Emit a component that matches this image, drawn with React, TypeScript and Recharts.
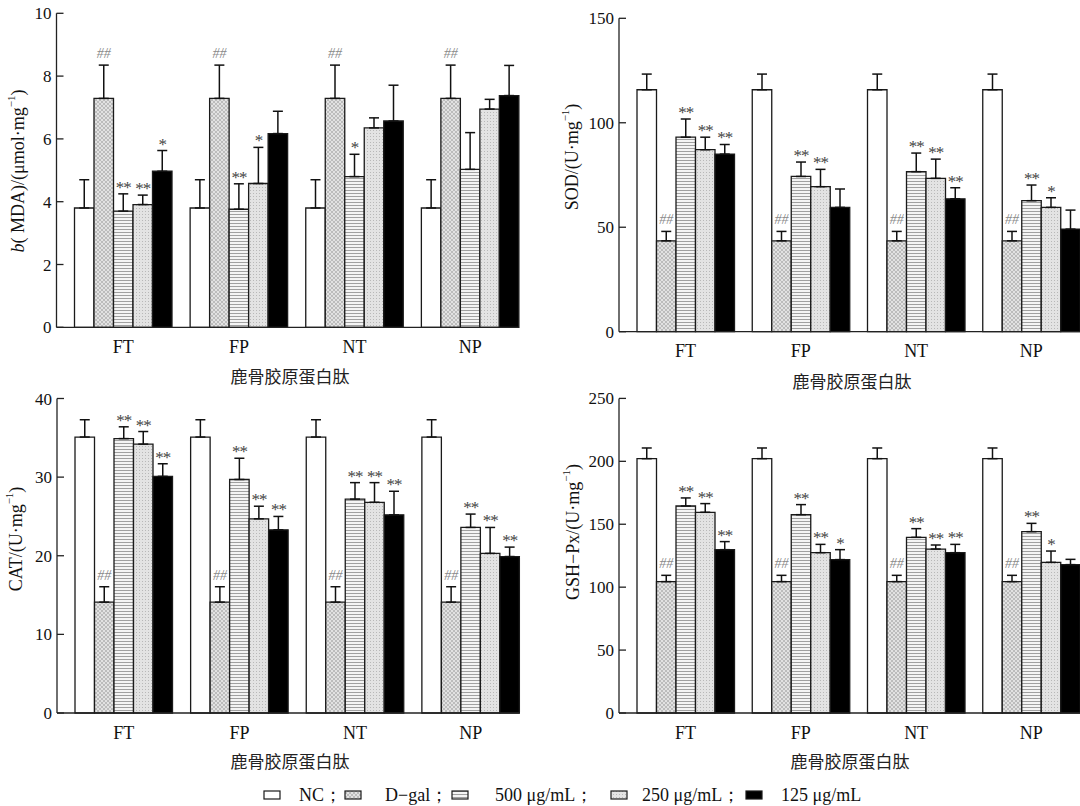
import React from 'react';
import { BarChart, Bar, XAxis, YAxis, ErrorBar, LabelList, Label } from 'recharts';

// ---------- categories & legend ----------
const categories = ['FT', 'FP', 'NT', 'NP'];
const seriesNames = ['NC；', 'D−gal；', '500 μg/mL；', '250 μg/mL；', '125 μg/mL'];
const xTitle = '鹿骨胶原蛋白肽';

// ---------- MDA ----------
const mdaNC = [3.8, 3.8, 3.8, 3.8];
const mdaDgal = [7.29, 7.29, 7.29, 7.29];
const mda500 = [3.7, 3.76, 4.8, 5.03];
const mda250 = [3.91, 4.58, 6.35, 6.95];
const mda125 = [4.97, 6.17, 6.57, 7.38];
const mdaNCErr = [0.9, 0.9, 0.9, 0.9];
const mdaDgalErr = [1.06, 1.06, 1.06, 1.06];
const mda500Err = [0.55, 0.81, 0.71, 1.17];
const mda250Err = [0.3, 1.15, 0.32, 0.31];
const mda125Err = [0.66, 0.71, 1.14, 0.96];
const mdaMarks500 = ['**', '**', '*', ''];
const mdaMarks250 = ['**', '*', '', ''];
const mdaMarks125 = ['*', '', '', ''];
const mdaTicks = [0, 2, 4, 6, 8, 10];

// ---------- SOD ----------
const sodNC = [115.8, 115.8, 115.8, 115.8];
const sodDgal = [43.5, 43.5, 43.5, 43.5];
const sod500 = [93.1, 74.3, 76.6, 62.7];
const sod250 = [87.1, 69.4, 73.4, 59.5];
const sod125 = [85.0, 59.5, 63.6, 49.1];
const sodNCErr = [7.5, 7.5, 7.5, 7.5];
const sodDgalErr = [4.5, 4.5, 4.5, 4.5];
const sod500Err = [8.7, 6.9, 8.9, 7.5];
const sod250Err = [6.0, 8.3, 9.2, 4.6];
const sod125Err = [4.6, 8.8, 5.3, 9.1];
const sodMarks500 = ['**', '**', '**', '**'];
const sodMarks250 = ['**', '**', '**', '*'];
const sodMarks125 = ['**', '', '**', ''];
const sodTicks = [0, 50, 100, 150];

// ---------- CAT ----------
const catNC = [35.1, 35.1, 35.1, 35.1];
const catDgal = [14.1, 14.1, 14.1, 14.1];
const cat500 = [34.9, 29.7, 27.2, 23.6];
const cat250 = [34.2, 24.7, 26.8, 20.3];
const cat125 = [30.1, 23.3, 25.2, 19.9];
const catNCErr = [2.2, 2.2, 2.2, 2.2];
const catDgalErr = [1.96, 1.96, 1.96, 1.96];
const cat500Err = [1.5, 2.7, 2.1, 1.7];
const cat250Err = [1.6, 1.6, 2.5, 3.3];
const cat125Err = [1.6, 1.7, 3.0, 1.2];
const catMarks500 = ['**', '**', '**', '**'];
const catMarks250 = ['**', '**', '**', '**'];
const catMarks125 = ['**', '**', '**', '**'];
const catTicks = [0, 10, 20, 30, 40];

// ---------- GSH-Px ----------
const gshNC = [202.1, 202.1, 202.1, 202.1];
const gshDgal = [104.4, 104.4, 104.4, 104.4];
const gsh500 = [164.5, 157.6, 139.6, 144.1];
const gsh250 = [159.5, 127.4, 130.3, 119.7];
const gsh125 = [129.8, 121.9, 127.4, 117.9];
const gshNCErr = [8.5, 8.5, 8.5, 8.5];
const gshDgalErr = [5.0, 5.0, 5.0, 5.0];
const gsh500Err = [6.4, 8.0, 6.9, 6.6];
const gsh250Err = [6.9, 6.6, 3.2, 9.0];
const gsh125Err = [6.4, 7.9, 6.6, 4.2];
const gshMarks500 = ['**', '**', '**', '**'];
const gshMarks250 = ['**', '**', '**', '*'];
const gshMarks125 = ['**', '*', '**', ''];
const gshTicks = [0, 50, 100, 150, 200, 250];

const dgalMarks = ['##', '##', '##', '##'];
const noMarks = ['', '', '', ''];

const SERIF = "'Liberation Serif', 'Times New Roman', serif";
const CJK = "'Noto Sans CJK SC', sans-serif";
const keys = ['nc', 'dgal', 'c500', 'c250', 'c125'];
const fills = ['#ffffff', 'url(#pDgal)', 'url(#pHor)', 'url(#pDot)', '#000000'];

type Geo = {
  cx: number; cy: number; w: number; h: number;
  left: number; top: number; bottom: number; right: number;
  yLab: [number, number]; xLab: [number, number];
};

const makeMarker = (vals: number[], errs: number[], marks: string[]) => (props: any) => {
  const index = props.index;
  const m = marks[index];
  if (!m) return null;
  const vb = props.viewBox || props;
  const x = Number(vb.x), y = Number(vb.y), w = Number(vb.width), h = Number(vb.height);
  const v = vals[index];
  const errPx = (errs[index] * Math.abs(h)) / v;
  const top = Math.min(y, y + h) - errPx;
  const hash = m.startsWith('#');
  return (
    <text
      x={x + w / 2}
      y={top - (hash ? 7 : 1)}
      textAnchor="middle"
      fontSize={hash ? 14 : 17}
      fill={hash ? '#8a8a8a' : '#444'}
      fontFamily={SERIF}
      fontStyle={hash ? 'italic' : 'normal'}
      letterSpacing={hash ? 0 : -1}
    >
      {m}
    </text>
  );
};

function Panel(props: {
  geo: Geo; vals: number[][]; errs: number[][]; marks: string[][];
  ticks: number[]; yLabel: React.ReactNode;
}) {
  const { geo, vals, errs, marks, ticks, yLabel } = props;
  const data = categories.map((cat, i) => {
    const row: any = { cat };
    keys.forEach((k, s) => {
      row[k] = vals[s][i];
      row[k + 'E'] = [0, errs[s][i]];
    });
    return row;
  });
  const margin = {
    top: geo.top - geo.cy,
    right: geo.cx + geo.w - geo.right,
    bottom: geo.cy + geo.h - geo.bottom - 30,
    left: 0,
  };
  const [ylx, yly] = [geo.yLab[0] - geo.cx, geo.yLab[1] - geo.cy];
  const [xlx, xly] = [geo.xLab[0] - geo.cx, geo.xLab[1] - geo.cy];
  return (
    <div style={{ position: 'absolute', left: geo.cx, top: geo.cy }}>
      <BarChart width={geo.w} height={geo.h} data={data} margin={margin} barGap={0} barSize={19.5}>
        <XAxis
          dataKey="cat"
          tickLine={false}
          axisLine={{ stroke: '#222', strokeWidth: 1.3 }}
          tick={{ fontSize: 18, fill: '#111', fontFamily: SERIF }}
          tickMargin={7}
          interval={0}
          padding={{ left: 9, right: -9 }}
          height={30}
        >
          <Label
            content={() => (
              <text x={xlx} y={xly} textAnchor="middle" dominantBaseline="central" fontSize={17} fill="#222" fontFamily={CJK}>
                {xTitle}
              </text>
            )}
          />
        </XAxis>
        <YAxis
          type="number"
          domain={[0, ticks[ticks.length - 1]]}
          ticks={ticks}
          interval={0}
          width={geo.left - geo.cx}
          tickSize={-7}
          tickMargin={12}
          tickLine={{ stroke: '#222', strokeWidth: 1.3 }}
          axisLine={{ stroke: '#222', strokeWidth: 1.3 }}
          tick={{ fontSize: 17, fill: '#111', fontFamily: SERIF }}
        >
          <Label
            content={() => (
              <text
                x={ylx}
                y={yly}
                transform={`rotate(-90, ${ylx}, ${yly})`}
                textAnchor="middle"
                dominantBaseline="central"
                fontSize={18}
                fill="#111"
                fontFamily={SERIF}
              >
                {yLabel}
              </text>
            )}
          />
        </YAxis>
        {keys.map((k, s) => (
          <Bar key={k} dataKey={k} fill={fills[s]} stroke="#1a1a1a" strokeWidth={1.3} isAnimationActive={false}>
            <ErrorBar dataKey={k + 'E'} width={5} stroke="#111" strokeWidth={1.5} direction="y" />
            <LabelList dataKey={k} content={makeMarker(vals[s], errs[s], marks[s])} />
          </Bar>
        ))}
      </BarChart>
    </div>
  );
}

const unit = (pre: React.ReactNode) => (
  <>
    {pre}
    <tspan dy={-7} fontSize={11}>−1</tspan>
    <tspan dy={7}>)</tspan>
  </>
);

const geo1: Geo = { cx: 0, cy: 0, w: 540, h: 400, left: 56.5, top: 13.3, bottom: 327.3, right: 519, yLab: [18, 171], xLab: [290, 375] };
const geo2: Geo = { cx: 540, cy: 0, w: 540, h: 400, left: 619, top: 18.3, bottom: 331.7, right: 1080, yLab: [572, 157], xLab: [852, 380] };
const geo3: Geo = { cx: 0, cy: 385, w: 540, h: 421, left: 57, top: 398.5, bottom: 713, right: 519.5, yLab: [16, 539], xLab: [290, 760] };
const geo4: Geo = { cx: 540, cy: 385, w: 540, h: 421, left: 619, top: 398.4, bottom: 713, right: 1080, yLab: [573, 532], xLab: [850, 760] };

const legendSwatchX = [264, 345, 452, 611, 746];
const legendTextX = [299, 385, 495, 642, 781];

export default function App() {
  return (
    <div style={{ position: 'absolute', left: 0, top: 0, width: 1080, height: 806, background: '#fff', overflow: 'hidden' }}>
      <svg width={0} height={0} style={{ position: 'absolute' }}>
        <defs>
          <pattern id="pDgal" patternUnits="userSpaceOnUse" width={4} height={4}>
            <rect width={4} height={4} fill="#e2e2e2" />
            <path d="M0,0 L4,4 M4,0 L0,4" stroke="#a2a2a2" strokeWidth={0.6} />
          </pattern>
          <pattern id="pHor" patternUnits="userSpaceOnUse" width={4} height={3}>
            <rect width={4} height={3} fill="#f4f4f4" />
            <line x1={0} y1={1.5} x2={4} y2={1.5} stroke="#a0a0a0" strokeWidth={1} />
          </pattern>
          <pattern id="pDot" patternUnits="userSpaceOnUse" width={3} height={3}>
            <rect width={3} height={3} fill="#e3e3e3" />
            <rect x={1} y={1} width={1} height={1} fill="#b8b8b8" />
          </pattern>
        </defs>
      </svg>

      <Panel
        geo={geo1}
        vals={[mdaNC, mdaDgal, mda500, mda250, mda125]}
        errs={[mdaNCErr, mdaDgalErr, mda500Err, mda250Err, mda125Err]}
        marks={[noMarks, dgalMarks, mdaMarks500, mdaMarks250, mdaMarks125]}
        ticks={mdaTicks}
        yLabel={unit(<><tspan fontStyle="italic">b</tspan>( MDA)/(μmol·mg</>)}
      />
      <Panel
        geo={geo2}
        vals={[sodNC, sodDgal, sod500, sod250, sod125]}
        errs={[sodNCErr, sodDgalErr, sod500Err, sod250Err, sod125Err]}
        marks={[noMarks, dgalMarks, sodMarks500, sodMarks250, sodMarks125]}
        ticks={sodTicks}
        yLabel={unit(<>SOD/(U·mg</>)}
      />
      <Panel
        geo={geo3}
        vals={[catNC, catDgal, cat500, cat250, cat125]}
        errs={[catNCErr, catDgalErr, cat500Err, cat250Err, cat125Err]}
        marks={[noMarks, dgalMarks, catMarks500, catMarks250, catMarks125]}
        ticks={catTicks}
        yLabel={unit(<>CAT/(U·mg</>)}
      />
      <Panel
        geo={geo4}
        vals={[gshNC, gshDgal, gsh500, gsh250, gsh125]}
        errs={[gshNCErr, gshDgalErr, gsh500Err, gsh250Err, gsh125Err]}
        marks={[noMarks, dgalMarks, gshMarks500, gshMarks250, gshMarks125]}
        ticks={gshTicks}
        yLabel={unit(<>GSH−Px/(U·mg</>)}
      />

      <svg width={1080} height={31} style={{ position: 'absolute', left: 0, top: 775 }}>
        {seriesNames.map((n, i) => (
          <g key={n}>
            <rect x={legendSwatchX[i]} y={16} width={16} height={8} fill={fills[i]} stroke="#1a1a1a" strokeWidth={1.2} />
            <text x={legendTextX[i]} y={26} fontSize={18} fill="#111" fontFamily={SERIF}>
              {n}
            </text>
          </g>
        ))}
      </svg>
    </div>
  );
}
